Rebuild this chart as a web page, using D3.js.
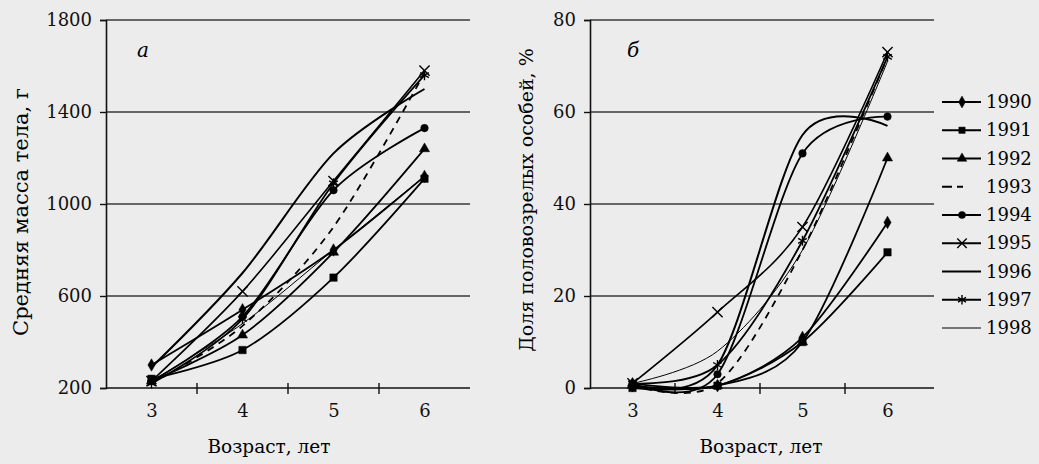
<!DOCTYPE html>
<html>
<head>
<meta charset="utf-8">
<script src="https://cdn.jsdelivr.net/npm/d3@7"></script>
<style>
  body { margin: 0; background: #ececec; }
  svg { display: block; font-family: "DejaVu Serif", serif; }
</style>
</head>
<body>
<div id="chart"></div>
<script>
// ages on the x axis
var ages = [3, 4, 5, 6];
var years = ["1990", "1991", "1992", "1993", "1994", "1995", "1996", "1997", "1998"];

// mean body mass, g (panel a)
var mass1990 = [300, 540, 800, 1120];
var mass1991 = [240, 365, 680, 1110];
var mass1992 = [230, 430, 790, 1240];
var mass1993 = [220, 470, 900, 1570];
var mass1994 = [230, 510, 1060, 1330];
var mass1995 = [230, 620, 1100, 1580];
var mass1996 = [290, 700, 1220, 1500];
var mass1997 = [220, 500, 1090, 1560];
var mass1998 = [230, 480, 800, 1120];

// share of mature fish, % (panel b)
var mature1990 = [0.5, 0.5, 11, 36];
var mature1991 = [0, 0.5, 10, 29.5];
var mature1992 = [1, 0.5, 10, 50];
var mature1993 = [0.5, 1, 30, 72];
var mature1994 = [1, 3, 51, 59];
var mature1995 = [1, 16.5, 35, 73];
var mature1996 = [0.5, 5, 55, 57];
var mature1997 = [1, 5, 32, 72];
var mature1998 = [1, 8, 30, 71];

var massTicks = [200, 600, 1000, 1400, 1800];
var matureTicks = [0, 20, 40, 60, 80];

var massData = [mass1990, mass1991, mass1992, mass1993, mass1994, mass1995, mass1996, mass1997, mass1998];
var matureData = [mature1990, mature1991, mature1992, mature1993, mature1994, mature1995, mature1996, mature1997, mature1998];

// marker / line style per year
var markers = ["diamond", "square", "triangle", null, "circle", "times", null, "asterisk", null];
var widths = [1.8, 1.8, 1.8, 1.8, 1.8, 1.6, 2, 1.8, 1];
var dashes = [null, null, null, "7,6", null, null, null, null, null];

var W = 1039, H = 464;
var svg = d3.select("#chart").append("svg")
    .attr("width", W).attr("height", H);

svg.append("rect").attr("width", W).attr("height", H).attr("fill", "#ececec");

function symbolPath(kind, size) {
    var s;
    if (kind == "diamond") s = d3.symbolDiamond;
    else if (kind == "square") s = d3.symbolSquare;
    else if (kind == "triangle") s = d3.symbolTriangle;
    else if (kind == "circle") s = d3.symbolCircle;
    else if (kind == "times") s = d3.symbolTimes || d3.symbolX;
    else if (kind == "asterisk") s = d3.symbolAsterisk;
    return d3.symbol().type(s).size(size)();
}

function drawPanel(opt) {
    var g = svg.append("g");

    var x = d3.scalePoint().domain(ages).range(opt.xr).padding(0.5);
    var band = d3.scaleBand().domain(ages).range(opt.xr);
    var y = d3.scaleLinear().domain(opt.yd).range([388, 20]);

    // gridlines
    g.selectAll(".grid").data(opt.ticks.slice(1)).enter().append("line")
        .attr("x1", opt.xr[0]).attr("x2", opt.gridEnd)
        .attr("y1", function(d) { return y(d); })
        .attr("y2", function(d) { return y(d); })
        .attr("stroke", "#3a3a3a").attr("stroke-width", 1.6);

    // y axis
    var yAxis = d3.axisLeft(y).tickValues(opt.ticks).tickFormat(d3.format("d"))
        .tickSize(6).tickPadding(8);
    var ya = g.append("g").attr("transform", "translate(" + opt.xr[0] + ",0)").call(yAxis);
    ya.select(".domain").attr("stroke", "#111").attr("stroke-width", 1.6);
    ya.selectAll(".tick line").attr("stroke", "#111").attr("stroke-width", 1.4);
    ya.selectAll("text").style("font-size", "18px").style("font-family", "DejaVu Serif").attr("fill", "#111");

    // x axis
    var xAxis = d3.axisBottom(x).tickSize(0).tickPadding(16);
    var xa = g.append("g").attr("transform", "translate(0,388)").call(xAxis);
    xa.select(".domain").attr("d", "M" + opt.xr[0] + ",0H" + opt.gridEnd)
        .attr("stroke", "#111").attr("stroke-width", 1.6);
    xa.selectAll("text").style("font-size", "18px").style("font-family", "DejaVu Serif").attr("fill", "#111");
    xa.selectAll(".sep").data(ages.slice(1)).enter().append("line")
        .attr("x1", function(d) { return band(d); })
        .attr("x2", function(d) { return band(d); })
        .attr("y1", -5).attr("y2", 6)
        .attr("stroke", "#111").attr("stroke-width", 1.4);

    // lines
    var line = d3.line()
        .x(function(d, i) { return x(ages[i]); })
        .y(function(d) { return y(d); })
        .curve(d3.curveCardinal.tension(0.1));

    opt.data.forEach(function(series, k) {
        g.append("path")
            .attr("d", line(series))
            .attr("fill", "none")
            .attr("stroke", "#000")
            .attr("stroke-width", widths[k])
            .attr("stroke-dasharray", dashes[k]);
        if (markers[k]) {
            var stroked = markers[k] == "times" || markers[k] == "asterisk";
            g.selectAll(".m" + k).data(series).enter().append("path")
                .attr("transform", function(d, i) { return "translate(" + x(ages[i]) + "," + y(d) + ")"; })
                .attr("d", symbolPath(markers[k], stroked ? 70 : (markers[k] == "square" ? 55 : 45)))
                .attr("fill", stroked ? "none" : "#000")
                .attr("stroke", "#000")
                .attr("stroke-width", stroked ? 1.4 : 0.5);
        }
    });

    // panel letter
    g.append("text").attr("x", opt.letterX).attr("y", 57)
        .style("font-size", "20px").style("font-style", "italic")
        .text(opt.letter);

    // axis titles
    g.append("text").attr("x", opt.titleX).attr("y", 453)
        .attr("text-anchor", "middle").style("font-size", "18.5px")
        .text("Возраст, лет");
    g.append("text")
        .attr("transform", "translate(" + opt.yTitleX + "," + opt.yTitleY + ") rotate(-90)")
        .attr("text-anchor", "middle").style("font-size", opt.yTitleSize)
        .text(opt.yTitle);
}

drawPanel({
    xr: [106, 470], gridEnd: 470, yd: [200, 1800], ticks: massTicks, data: massData,
    letter: "а", letterX: 137, titleX: 269,
    yTitle: "Средняя масса тела, г", yTitleX: 28, yTitleY: 212, yTitleSize: "21px"
});

drawPanel({
    xr: [590, 930], gridEnd: 934, yd: [0, 80], ticks: matureTicks, data: matureData,
    letter: "б", letterX: 627, titleX: 761,
    yTitle: "Доля половозрелых особей, %", yTitleX: 533, yTitleY: 200, yTitleSize: "19px"
});

// legend
var legendY = d3.scalePoint().domain(years).range([102, 328]);
var lg = svg.append("g");
years.forEach(function(yr, k) {
    var yy = legendY(yr);
    lg.append("line").attr("x1", 942).attr("x2", 981).attr("y1", yy).attr("y2", yy)
        .attr("stroke", "#000").attr("stroke-width", k == 8 ? 1 : 2)
        .attr("stroke-dasharray", k == 3 ? "10,5,6,20" : null);
    if (markers[k]) {
        var stroked = markers[k] == "times" || markers[k] == "asterisk";
        lg.append("path").attr("transform", "translate(962," + yy + ")")
            .attr("d", symbolPath(markers[k], stroked ? 60 : 40))
            .attr("fill", stroked ? "none" : "#000")
            .attr("stroke", "#000").attr("stroke-width", stroked ? 1.4 : 0.5);
    }
    lg.append("text").attr("x", 986).attr("y", yy + 6)
        .style("font-size", "18px").text(yr);
});
</script>
</body>
</html>
